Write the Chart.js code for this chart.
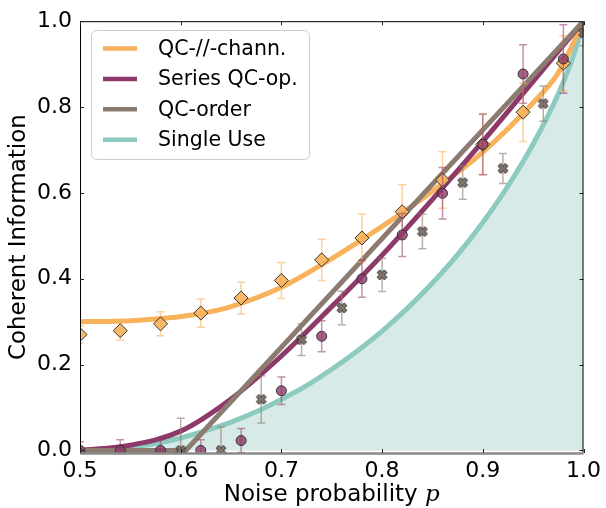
<!DOCTYPE html>
<html>
<head>
<meta charset="utf-8">
<script src="https://cdn.jsdelivr.net/npm/chart.js@4.4.1/dist/chart.umd.min.js"></script>
<style>
  html, body { margin: 0; padding: 0; background: #fff; }
</style>
</head>
<body>
<canvas id="chart" width="606" height="508"></canvas>
<script>
// theory curves
const singleP = [0.5, 0.525, 0.55, 0.575, 0.6, 0.625, 0.65, 0.675, 0.7, 0.725, 0.75, 0.775, 0.8, 0.825, 0.85, 0.875, 0.9, 0.925, 0.95, 0.975, 0.99, 1.0];
const singleVals = [0, 0.002, 0.007, 0.016, 0.029, 0.046, 0.066, 0.09, 0.119, 0.151, 0.189, 0.231, 0.278, 0.331, 0.39, 0.456, 0.531, 0.616, 0.714, 0.831, 0.92, 1.0];

const parallelP = [0.5, 0.525, 0.55, 0.575, 0.6, 0.625, 0.65, 0.7, 0.75, 0.8, 0.85, 0.9, 0.95, 0.975, 1.0];
const parallelVals = [0.3, 0.3005, 0.302, 0.306, 0.312, 0.321, 0.335, 0.38, 0.447, 0.522, 0.604, 0.695, 0.81, 0.88, 1.0];

const seriesP = [0.5, 0.55, 0.6, 0.65, 0.7, 0.75, 0.8, 0.85, 0.9, 0.95, 1.0];
const seriesVals = [0, 0.012, 0.045, 0.12, 0.22, 0.335, 0.455, 0.585, 0.72, 0.86, 1.0];

const orderP = [0.5, 0.605, 1.0];
const orderVals = [0, 0, 1.0];

// measured points with error bars
const sampleP = [0.5, 0.54, 0.58, 0.62, 0.66, 0.70, 0.74, 0.78, 0.82, 0.86, 0.90, 0.94, 0.98];
const parallelData = [0.27, 0.279, 0.295, 0.32, 0.355, 0.396, 0.444, 0.495, 0.556, 0.63, 0.713, 0.788, 0.902];
const parallelErr = [0.02, 0.022, 0.028, 0.033, 0.037, 0.042, 0.048, 0.056, 0.063, 0.066, 0.07, 0.068, 0.064];
const seriesData = [0, 0, 0, 0, 0.023, 0.139, 0.266, 0.40, 0.502, 0.599, 0.713, 0.877, 0.912];
const seriesErr = [0.02, 0.025, 0.025, 0.025, 0.028, 0.032, 0.036, 0.043, 0.05, 0.06, 0.071, 0.068, 0.08];

const orderSampleP = [0.6, 0.64, 0.68, 0.72, 0.76, 0.8, 0.84, 0.88, 0.92, 0.96, 1.0];
const orderData = [0, 0, 0.119, 0.258, 0.332, 0.409, 0.51, 0.624, 0.657, 0.808, 0.973];
const orderErr = [0.075, 0.055, 0.055, 0.037, 0.039, 0.039, 0.04, 0.039, 0.035, 0.041, 0.03];

const xTicks = [0.5, 0.6, 0.7, 0.8, 0.9, 1.0];
const yTicks = [0, 0.2, 0.4, 0.6, 0.8, 1.0];

const ORANGE = "#f9b25c", PURPLE = "#8e3a69", BROWN = "#8c7b70", TEAL = "#8dcabf";

const pts = (xs, ys) => xs.map((x, i) => ({ x: x, y: ys[i] }));

// filled "X" marker
function makeX(size) {
  const c = document.createElement("canvas");
  c.width = c.height = size + 2;
  const g = c.getContext("2d");
  const m = (size + 2) / 2, h = size / 2, k = 0.45, cc = 0.55;
  const v = [[0, -k], [1 - cc, -1], [1, -1 + cc], [k, 0], [1, 1 - cc], [1 - cc, 1],
             [0, k], [-1 + cc, 1], [-1, 1 - cc], [-k, 0], [-1, -1 + cc], [-1 + cc, -1]];
  g.beginPath();
  v.forEach(([a, b], i) => (i ? g.lineTo : g.moveTo).call(g, m + a * h, m + b * h));
  g.closePath();
  g.fillStyle = "rgba(128,112,102,0.95)";
  g.fill();
  g.strokeStyle = "#2a2a2a";
  g.lineWidth = 1;
  g.stroke();
  return c;
}

function line(label, xs, ys, color, order, extra) {
  return Object.assign({
    label: label,
    data: pts(xs, ys),
    showLine: true,
    borderColor: color,
    backgroundColor: color,
    borderWidth: 5,
    pointRadius: 0,
    cubicInterpolationMode: "monotone",
    order: order,
    inLegend: true,
    clip: 0,
  }, extra || {});
}

const errorBars = {
  id: "errorBars",
  beforeDatasetDraw(chart, args) {
    const ds = chart.data.datasets[args.index];
    if (!ds.errors) return;
    const { ctx, chartArea: a, scales: { x, y } } = chart;
    ctx.save();
    ctx.beginPath();
    ctx.rect(a.left, a.top, a.right - a.left, a.bottom - a.top);
    ctx.clip();
    ctx.strokeStyle = ds.errorColor;
    ctx.lineWidth = 1.5;
    ds.data.forEach((pt, i) => {
      const px = x.getPixelForValue(pt.x);
      const lo = y.getPixelForValue(pt.y - ds.errors[i]);
      const hi = y.getPixelForValue(pt.y + ds.errors[i]);
      ctx.beginPath();
      ctx.moveTo(px, lo); ctx.lineTo(px, hi);
      ctx.moveTo(px - 4, lo); ctx.lineTo(px + 4, lo);
      ctx.moveTo(px - 4, hi); ctx.lineTo(px + 4, hi);
      ctx.stroke();
    });
    ctx.restore();
  },
};

const frame = {
  id: "frame",
  afterDatasetsDraw(chart) {
    const { ctx, chartArea: a, scales: { x, y } } = chart;
    ctx.save();
    ctx.strokeStyle = "#000";
    ctx.lineWidth = 1;
    ctx.beginPath();
    ctx.moveTo(a.left + 0.5, a.bottom); ctx.lineTo(a.left + 0.5, a.top + 0.5);
    ctx.lineTo(a.right - 0.5, a.top + 0.5); ctx.lineTo(a.right - 0.5, a.bottom);
    ctx.stroke();
    ctx.strokeStyle = "#8a8a8a";
    ctx.lineWidth = 2.5;
    ctx.beginPath();
    ctx.moveTo(a.left, a.bottom + 0.5); ctx.lineTo(a.right, a.bottom + 0.5);
    ctx.stroke();
    // inward ticks on all four sides
    ctx.strokeStyle = "#222";
    ctx.lineWidth = 1;
    ctx.beginPath();
    xTicks.forEach((v) => {
      const px = Math.round(x.getPixelForValue(v)) + 0.5;
      ctx.moveTo(px, a.bottom); ctx.lineTo(px, a.bottom - 4);
      ctx.moveTo(px, a.top); ctx.lineTo(px, a.top + 4);
    });
    yTicks.forEach((v) => {
      const py = Math.round(y.getPixelForValue(v)) + 0.5;
      ctx.moveTo(a.left, py); ctx.lineTo(a.left + 4, py);
      ctx.moveTo(a.right, py); ctx.lineTo(a.right - 4, py);
    });
    ctx.stroke();
    ctx.restore();
  },
  afterDraw(chart) {
    const { ctx, chartArea: a } = chart;
    ctx.save();
    // x axis title with italic p
    const main = "Noise probability ";
    ctx.font = "23px 'DejaVu Sans'";
    const w1 = ctx.measureText(main).width;
    ctx.font = "italic 23px 'DejaVu Serif'";
    const w2 = ctx.measureText("p").width;
    const x0 = (a.left + a.right) / 2 - (w1 + w2) / 2;
    ctx.fillStyle = "#000";
    ctx.textBaseline = "alphabetic";
    ctx.font = "23px 'DejaVu Sans'";
    ctx.fillText(main, x0, 501);
    ctx.font = "italic 23px 'DejaVu Serif'";
    ctx.fillText("p", x0 + w1, 501);

    // legend
    const items = chart.data.datasets.filter((d) => d.inLegend);
    ctx.beginPath();
    ctx.roundRect(91.5, 30.5, 218, 129, 5);
    ctx.fillStyle = "rgba(255,255,255,0.85)";
    ctx.fill();
    ctx.strokeStyle = "#cccccc";
    ctx.lineWidth = 1;
    ctx.stroke();
    ctx.font = "20.5px 'DejaVu Sans'";
    ctx.textBaseline = "middle";
    items.forEach((d, i) => {
      const yy = 48.5 + i * 30.4;
      ctx.strokeStyle = d.borderColor;
      ctx.lineWidth = 4.5;
      ctx.beginPath();
      ctx.moveTo(103, yy); ctx.lineTo(137, yy);
      ctx.stroke();
      ctx.fillStyle = "#000";
      ctx.fillText(d.label, 158, yy + 1);
    });
    ctx.restore();
  },
};

new Chart(document.getElementById("chart"), {
  type: "scatter",
  data: {
    datasets: [
      line("QC-//-chann.", parallelP, parallelVals, ORANGE, 9),
      line("Series QC-op.", seriesP, seriesVals, PURPLE, 8),
      line("QC-order", orderP, orderVals, BROWN, 7, { cubicInterpolationMode: "default", tension: 0 }),
      line("Single Use", singleP, singleVals, TEAL, 10, { fill: "origin", backgroundColor: "#d7eae7" }),
      {
        label: "QC-// data",
        data: pts(sampleP, parallelData),
        errors: parallelErr,
        errorColor: "rgba(249,178,92,0.6)",
        pointStyle: "rectRot",
        pointRadius: 7,
        backgroundColor: "rgba(249,178,92,0.9)",
        borderColor: "#333",
        borderWidth: 1,
        order: 3,
        clip: 0,
      },
      {
        label: "Series data",
        data: pts(sampleP, seriesData),
        errors: seriesErr,
        errorColor: "rgba(142,58,105,0.55)",
        pointStyle: "circle",
        pointRadius: 5,
        backgroundColor: "rgba(142,58,105,0.8)",
        borderColor: "#333",
        borderWidth: 1,
        order: 2,
        clip: 0,
      },
      {
        label: "Order data",
        data: pts(orderSampleP, orderData),
        errors: orderErr,
        errorColor: "rgba(140,123,112,0.6)",
        pointStyle: makeX(10),
        order: 1,
        clip: 0,
      },
    ],
  },
  options: {
    responsive: false,
    animation: false,
    layout: { padding: { left: 0, right: 20, top: 19, bottom: 0 } },
    plugins: {
      legend: { display: false },
      tooltip: { enabled: false },
    },
    scales: {
      x: {
        type: "linear",
        min: 0.5,
        max: 1.0,
        afterBuildTicks: (s) => { s.ticks = xTicks.map((v) => ({ value: v })); },
        afterFit: (s) => { s.height = 55; },
        grid: { display: false, drawTicks: false },
        border: { display: false },
        ticks: {
          padding: 5,
          color: "#000",
          font: { family: "DejaVu Sans", size: 22 },
          callback: (v) => v.toFixed(1),
          maxRotation: 0,
        },
      },
      y: {
        type: "linear",
        min: -0.006,
        max: 1.0,
        afterBuildTicks: (s) => { s.ticks = yTicks.map((v) => ({ value: v })); },
        afterFit: (s) => { s.width = 80; },
        grid: { display: false, drawTicks: false },
        border: { display: false },
        title: {
          display: true,
          text: "Coherent Information",
          color: "#000",
          font: { family: "DejaVu Sans", size: 23 },
          padding: { top: 5, bottom: 0 },
        },
        ticks: {
          padding: 8,
          color: "#000",
          font: { family: "DejaVu Sans", size: 22 },
          callback: (v) => v.toFixed(1),
        },
      },
    },
  },
  plugins: [errorBars, frame],
});
</script>
</body>
</html>
